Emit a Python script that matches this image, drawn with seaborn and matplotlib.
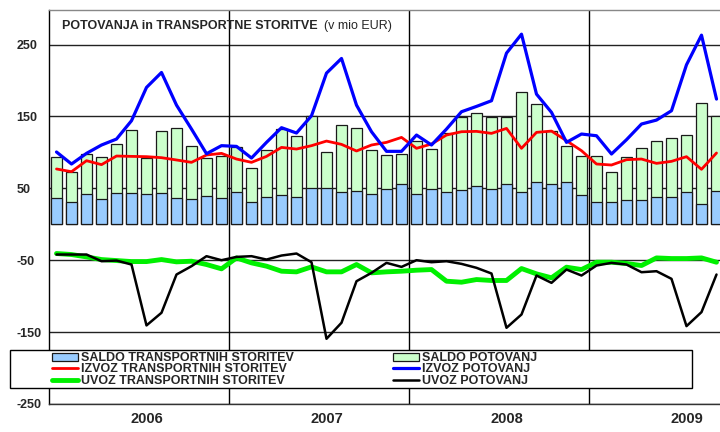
import numpy as np
import pandas as pd
import matplotlib
matplotlib.use("Agg")
import matplotlib.pyplot as plt
from matplotlib.patches import Rectangle, Patch
from matplotlib.lines import Line2D
import seaborn as sns

# monthly data, Jan 2006 - Sep 2009 (mio EUR)
months = [f"{y}-{m:02d}" for y in range(2006, 2010) for m in range(1, 13)][:45]
years = ["2006", "2007", "2008", "2009"]

saldo_transport = [36.1, 30.6, 41.7, 34.7, 43.5, 43.5, 42.6, 43.5, 36.1, 35.6, 39.4, 36.6,
                   44.4, 31.5, 37.5, 41.2, 37.5, 50.5, 50.5, 45.4, 46.3, 41.7, 48.6, 56.5,
                   42.1, 49.1, 44.4, 47.7, 53.2, 48.6, 56.0, 44.4, 58.8, 56.5, 58.3, 40.7,
                   30.6, 30.6, 33.8, 33.3, 37.5, 38.4, 45.4, 28.7, 45.8]
saldo_potovanj = [57.9, 41.6, 55.5, 58.4, 67.6, 87.1, 49.1, 86.6, 97.2, 73.7, 52.7, 58.3,
                  63.5, 46.7, 65.7, 91.2, 85.6, 100.4, 50.4, 92.1, 87.5, 61.1, 48.2, 41.2,
                  73.2, 56.0, 82.5, 100.9, 101.4, 100.9, 92.6, 139.9, 108.8, 73.1, 50.5, 54.2,
                  64.8, 42.5, 60.2, 72.3, 78.2, 81.0, 78.7, 139.8, 104.2]
izvoz_transport = [76.9, 73.1, 88.4, 82.9, 94.9, 94.4, 94.0, 92.6, 89.4, 86.1, 96.3, 98.6,
                   90.7, 86.1, 94.4, 106.9, 104.6, 109.3, 115.7, 111.1, 101.9, 110.2, 113.9, 120.8,
                   105.6, 111.6, 124.1, 128.7, 129.2, 126.4, 133.3, 105.6, 127.8, 129.6, 116.2, 102.3,
                   83.8, 82.4, 89.8, 90.7, 84.7, 87.5, 94.0, 76.4, 99.1]
izvoz_potovanj = [100.5, 83.8, 98.6, 110.2, 118.5, 144.0, 190.3, 211.1, 165.7, 132.4, 98.1, 109.3,
                  108.3, 92.1, 113.9, 134.3, 126.9, 150.9, 210.2, 230.6, 165.7, 128.7, 101.4, 101.4,
                  124.1, 110.2, 132.4, 156.5, 163.9, 171.8, 238.0, 264.4, 181.0, 155.6, 113.9, 125.5,
                  123.1, 97.7, 117.6, 139.4, 144.9, 157.9, 221.8, 263.0, 174.1]
uvoz_transport = [-40.7, -42.1, -45.4, -49.1, -50.5, -51.9, -51.9, -49.1, -52.3, -51.4, -56.0, -62.0,
                  -46.8, -53.7, -58.3, -65.3, -66.2, -59.3, -66.2, -66.2, -56.0, -67.6, -66.2, -65.3,
                  -63.9, -63.0, -79.2, -80.6, -76.9, -78.2, -78.2, -61.6, -69.0, -74.5, -59.7, -63.0,
                  -52.8, -52.8, -54.6, -57.4, -46.8, -47.7, -47.7, -46.8, -52.8]
uvoz_potovanj = [-42.1, -42.1, -42.1, -51.4, -50.5, -56.0, -140.7, -123.1, -69.9, -58.3, -44.4, -50.0,
                 -45.4, -44.4, -49.1, -43.5, -40.7, -52.8, -159.3, -137.0, -79.2, -67.6, -53.7, -59.3,
                 -50.0, -52.8, -51.4, -55.1, -60.6, -68.5, -144.0, -125.5, -71.3, -81.5, -63.0, -71.3,
                 -57.4, -53.7, -56.0, -66.7, -65.3, -75.9, -141.7, -122.2, -69.9]

df = pd.DataFrame({
    "month": months,
    "pos": np.arange(len(months)),
    "saldo_tr": saldo_transport,
    "saldo_pot": saldo_potovanj,
    "izvoz_tr": izvoz_transport,
    "izvoz_pot": izvoz_potovanj,
    "uvoz_tr": uvoz_transport,
    "uvoz_pot": uvoz_potovanj,
})
# green bars are stacked on top of the blue ones
df["stack_top"] = df["saldo_tr"] + df["saldo_pot"]

sns.set_style("white")
plt.rcParams["font.family"] = ["Liberation Sans", "DejaVu Sans"]

W, H = 720, 432
fig = plt.figure(figsize=(7.2, 4.32), dpi=100)
ax = fig.add_axes([49 / W, 28 / H, 671 / W, 394 / H])

edge = "#1a1a1a"
sns.barplot(data=df, x="month", y="stack_top", color="#CCFFCC", saturation=1,
            edgecolor=edge, linewidth=0.9, width=0.67, errorbar=None, ax=ax, zorder=2)
sns.barplot(data=df, x="month", y="saldo_tr", color="#99CCFF", saturation=1,
            edgecolor=edge, linewidth=0.9, width=0.67, errorbar=None, ax=ax, zorder=2)

sns.lineplot(data=df, x="pos", y="izvoz_tr", color="#FF0000", linewidth=2, ax=ax, zorder=4)
sns.lineplot(data=df, x="pos", y="izvoz_pot", color="#0000FF", linewidth=2.3, ax=ax, zorder=4)
sns.lineplot(data=df, x="pos", y="uvoz_tr", color="#00F000", linewidth=3.5, ax=ax, zorder=4)
sns.lineplot(data=df, x="pos", y="uvoz_pot", color="#000000", linewidth=1.8, ax=ax, zorder=5)

ax.set_xlim(-0.5, -0.5 + 671 / 15)
ax.set_ylim(-250, 298)
ax.set_xlabel("")
ax.set_ylabel("")

yt = [-250, -150, -50, 50, 150, 250]
ax.set_yticks(yt)
ax.set_yticklabels([str(v) for v in yt], fontsize=9, fontweight="bold")
for lab in ax.get_yticklabels():
    lab.set_horizontalalignment("left")
ax.tick_params(axis="y", direction="out", length=3, width=1, color="black", pad=20.5)
ax.set_xticks([6, 18, 30, 42])
ax.set_xticklabels(years, fontsize=10.5, fontweight="bold")
ax.tick_params(axis="x", length=0, pad=6)

ax.set_axisbelow(True)
ax.yaxis.grid(True, color="#222222", linewidth=1)
ax.xaxis.grid(False)
for xb in [11.5, 23.5, 35.5]:
    ax.axvline(xb, color="black", linewidth=1, zorder=1)

ax.spines["left"].set_color("black")
ax.spines["bottom"].set_color("#333333")
ax.spines["top"].set_color("#888888")
ax.spines["right"].set_visible(False)
for s in ax.spines.values():
    s.set_linewidth(1)

# title inside the plot
fig.text(62 / W, 1 - 26 / H, "POTOVANJA in TRANSPORTNE STORITVE", fontsize=9,
         fontweight="bold", va="center", ha="left")
fig.text(324 / W, 1 - 26 / H, "(v mio EUR)", fontsize=9, va="center", ha="left")

# legend box spanning across the lower part
fig.add_artist(Rectangle((10 / W, 44 / H), 682 / W, 38 / H, transform=fig.transFigure,
                         facecolor="white", edgecolor="black", linewidth=1, zorder=3))

h1 = [Patch(facecolor="#99CCFF", edgecolor=edge, linewidth=0.9),
      Line2D([], [], color="#FF0000", linewidth=2),
      Line2D([], [], color="#00F000", linewidth=3.5)]
l1 = ["SALDO TRANSPORTNIH STORITEV", "IZVOZ TRANSPORTNIH STORITEV", "UVOZ TRANSPORTNIH STORITEV"]
h2 = [Patch(facecolor="#CCFFCC", edgecolor=edge, linewidth=0.9),
      Line2D([], [], color="#0000FF", linewidth=2.3),
      Line2D([], [], color="#000000", linewidth=1.8)]
l2 = ["SALDO POTOVANJ", "IZVOZ POTOVANJ", "UVOZ POTOVANJ"]

leg_kw = dict(frameon=False, loc="upper left", bbox_transform=fig.transFigure,
              prop={"size": 9, "weight": "bold"}, borderpad=0, borderaxespad=0,
              handlelength=2.1, handleheight=0.6, handletextpad=0.25, labelspacing=-0.05)
leg1 = fig.legend(h1, l1, bbox_to_anchor=(52 / W, 1 - 352 / H), **leg_kw)
leg2 = fig.legend(h2, l2, bbox_to_anchor=(393 / W, 1 - 352 / H), **leg_kw)
leg1.set_zorder(6)
leg2.set_zorder(6)

fig.savefig("out.png", dpi=100)
